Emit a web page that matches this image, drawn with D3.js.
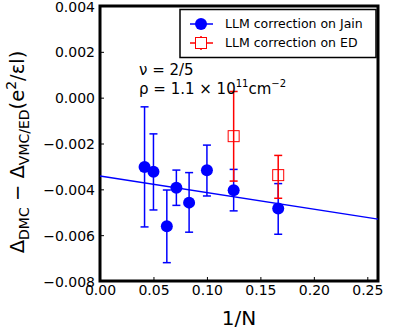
<!DOCTYPE html>
<html>
<head>
<meta charset="utf-8">
<script src="https://cdn.jsdelivr.net/npm/d3@7"></script>
<style>
body { margin: 0; background: #fff; }
text { font-family: "DejaVu Sans", sans-serif; }
</style>
</head>
<body>
<script>
// data
const jainX = [1/24, 1/20, 1/16, 1/14, 1/12, 1/10, 1/8, 1/6]
const jainY = [-0.00303, -0.00323, -0.00561, -0.00393, -0.00458, -0.00317, -0.00404, -0.00484]
const jainLo = [-0.00564, -0.0049, -0.0072, -0.0047, -0.00587, -0.00429, -0.00494, -0.00596]
const jainHi = [-0.00040, -0.00158, -0.00403, -0.00316, -0.00327, -0.00207, -0.00313, -0.00375]
const edX = [1/8, 1/6]
const edY = [-0.00168, -0.00338]
const edLo = [-0.00364, -0.00439]
const edHi = [0.00027, -0.00252]
const fitX = [0, 0.26]
const fitY = [-0.00342, -0.0053]
const xTicks = [0, 0.05, 0.1, 0.15, 0.2, 0.25]
const yTicks = [0.004, 0.002, 0, -0.002, -0.004, -0.006, -0.008]
const legendLabels = ["LLM correction on Jain", "LLM correction on ED"]

const W = 399, H = 332
const svg = d3.select("body").append("svg").attr("width", W).attr("height", H)

const x = d3.scaleLinear().domain([0, 0.26]).range([100, 378])
const y = d3.scaleLinear().domain([-0.008, 0.004]).range([281, 6])

// axes
const xAxis = d3.axisBottom(x).tickValues(xTicks).tickFormat(d3.format(".2f")).tickSizeInner(-4).tickSizeOuter(0).tickPadding(4)
const yAxis = d3.axisLeft(y).tickValues(yTicks).tickFormat(d => d3.format(".3f")(d).replace("-", "\u2212")).tickSizeInner(-4).tickSizeOuter(0).tickPadding(5)

const gx = svg.append("g").attr("transform", `translate(0,${y.range()[0]})`).call(xAxis)
const gy = svg.append("g").attr("transform", `translate(${x.range()[0]},0)`).call(yAxis)
for (const g of [gx, gy]) {
  g.select(".domain").remove()
  g.selectAll("text").attr("font-size", 14).attr("fill", "#000")
  g.selectAll("line").attr("stroke", "#000").attr("stroke-width", 1)
}
gy.selectAll("text").attr("dy", "0.36em")

// frame
svg.append("rect")
  .attr("x", x(0)).attr("y", y(0.004))
  .attr("width", x(0.26) - x(0)).attr("height", y(-0.008) - y(0.004))
  .attr("fill", "none").attr("stroke", "#000").attr("stroke-width", 3)

const plot = svg.append("g")

// fit line
plot.append("line")
  .attr("x1", x(fitX[0])).attr("y1", y(fitY[0]))
  .attr("x2", x(fitX[1])).attr("y2", y(fitY[1]))
  .attr("stroke", "blue").attr("stroke-width", 1.5)

function errBars(xs, lo, hi, color) {
  const g = plot.append("g").attr("stroke", color).attr("stroke-width", 1.5)
  xs.forEach((v, i) => {
    g.append("line").attr("x1", x(v)).attr("x2", x(v)).attr("y1", y(lo[i])).attr("y2", y(hi[i]))
    g.append("line").attr("x1", x(v) - 4).attr("x2", x(v) + 4).attr("y1", y(lo[i])).attr("y2", y(lo[i]))
    g.append("line").attr("x1", x(v) - 4).attr("x2", x(v) + 4).attr("y1", y(hi[i])).attr("y2", y(hi[i]))
  })
}

errBars(jainX, jainLo, jainHi, "blue")
plot.append("g").selectAll("circle").data(jainX).join("circle")
  .attr("cx", d => x(d)).attr("cy", (d, i) => y(jainY[i])).attr("r", 6).attr("fill", "blue")

errBars(edX, edLo, edHi, "red")
plot.append("g").selectAll("rect").data(edX).join("rect")
  .attr("x", d => x(d) - 5.5).attr("y", (d, i) => y(edY[i]) - 5.5)
  .attr("width", 11).attr("height", 11)
  .attr("fill", "none").attr("stroke", "red").attr("stroke-width", 1)

// legend
const lg = svg.append("g")
lg.append("rect").attr("x", 180).attr("y", 9.5).attr("width", 196).attr("height", 48)
  .attr("fill", "#fff").attr("stroke", "#000").attr("stroke-width", 1.5)
const ly = [24, 43]
lg.append("line").attr("x1", 190).attr("x2", 213).attr("y1", ly[0]).attr("y2", ly[0]).attr("stroke", "blue").attr("stroke-width", 1.5)
lg.append("circle").attr("cx", 201).attr("cy", ly[0]).attr("r", 6).attr("fill", "blue")
lg.append("line").attr("x1", 190).attr("x2", 213).attr("y1", ly[1]).attr("y2", ly[1]).attr("stroke", "red").attr("stroke-width", 1.5)
lg.append("line").attr("x1", 201).attr("x2", 201).attr("y1", ly[1] - 7).attr("y2", ly[1] + 7).attr("stroke", "red").attr("stroke-width", 1.5)
lg.append("rect").attr("x", 195.5).attr("y", ly[1] - 5.5).attr("width", 11).attr("height", 11)
  .attr("fill", "#fff").attr("stroke", "red").attr("stroke-width", 1)
legendLabels.forEach((t, i) => {
  lg.append("text").attr("x", 225).attr("y", ly[i]).attr("dy", "0.35em").attr("font-size", 12.5).text(t)
})

// annotation
const ann = svg.append("g").attr("font-size", 15)
ann.append("text").attr("x", 139).attr("y", 75).text("\u03bd = 2/5")
const t2 = ann.append("text").attr("x", 139).attr("y", 94)
t2.append("tspan").text("\u03c1 = 1.1 \u00d7 10")
t2.append("tspan").attr("font-size", 10).attr("dy", -7).text("11")
t2.append("tspan").attr("dy", 7).text("cm")
t2.append("tspan").attr("font-size", 10).attr("dy", -7).text("\u22122")

// axis labels
svg.append("text").attr("x", 239).attr("y", 325).attr("text-anchor", "middle").attr("font-size", 20).text("1/N")

const yl = svg.append("text").attr("transform", "translate(24,152) rotate(-90)")
  .attr("text-anchor", "middle").attr("font-size", 19.5)
yl.append("tspan").text("\u0394")
yl.append("tspan").attr("font-size", 14).attr("dy", 5).text("DMC")
yl.append("tspan").attr("dy", -5).text(" \u2212 \u0394")
yl.append("tspan").attr("font-size", 14).attr("dy", 5).text("VMC/ED")
yl.append("tspan").attr("dy", -5).text("(e")
yl.append("tspan").attr("font-size", 14).attr("dy", -8).text("2")
yl.append("tspan").attr("dy", 8).text("/\u03b5l)")
</script>
</body>
</html>
